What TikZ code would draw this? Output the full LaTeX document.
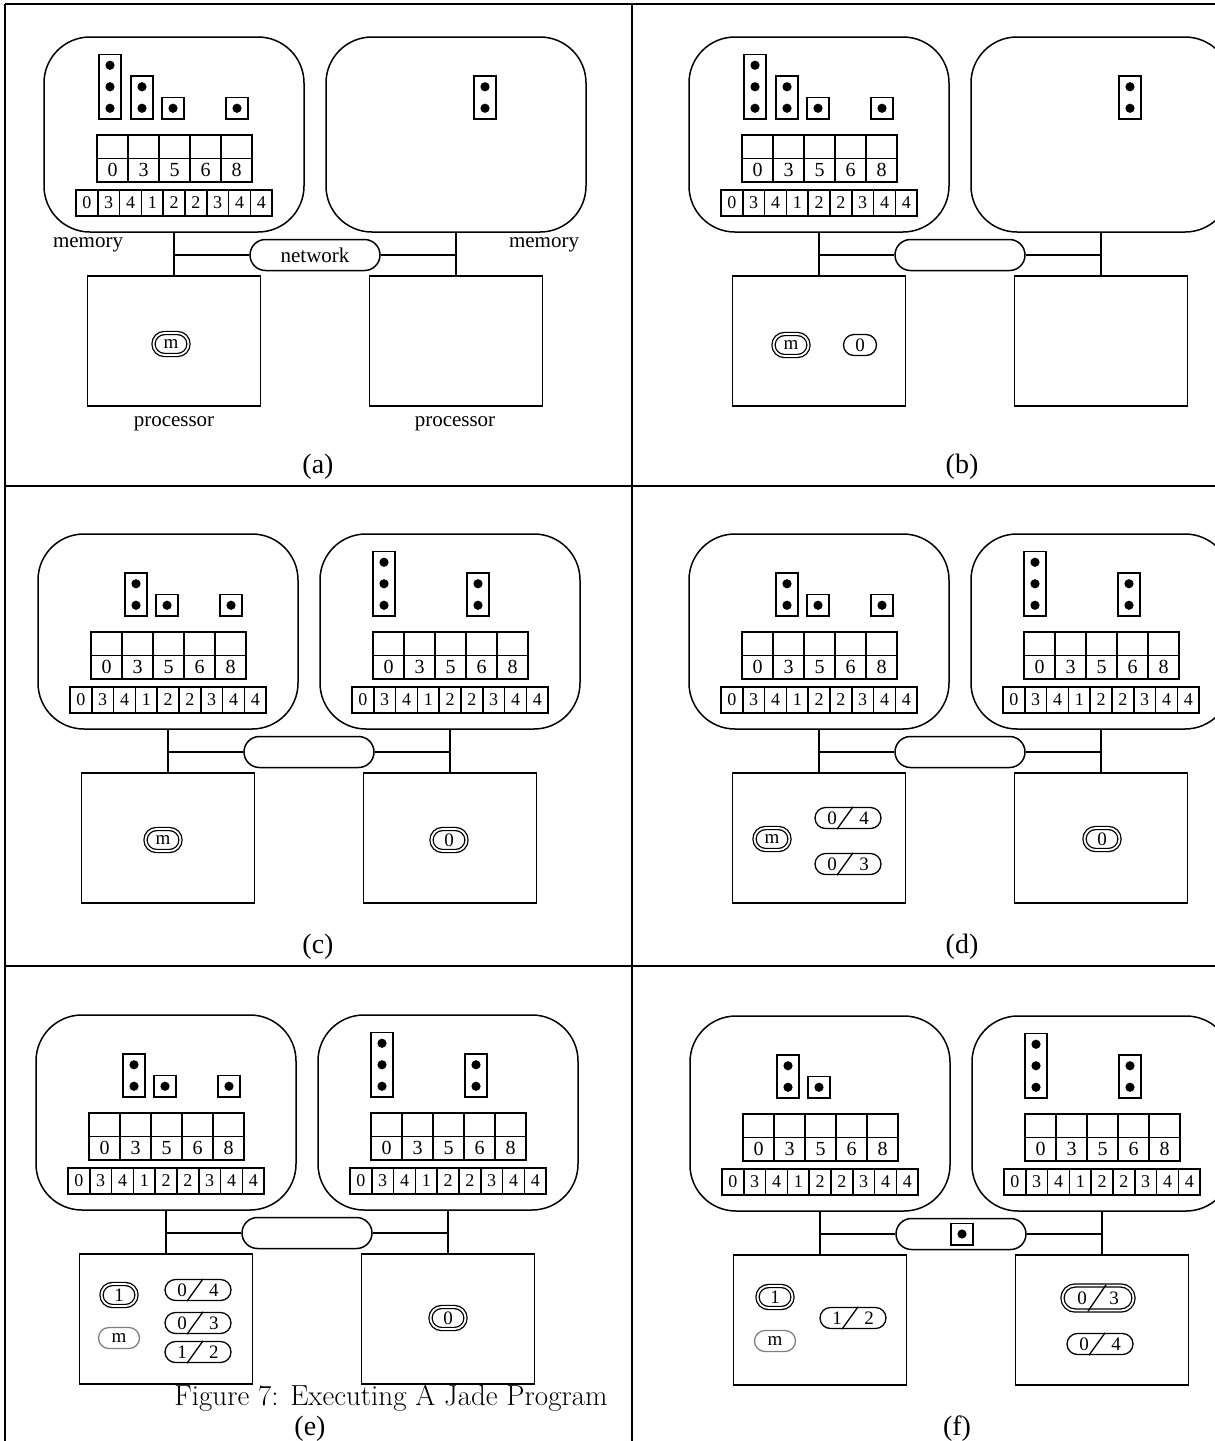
\documentclass[tikz,border=0pt]{standalone}
\usepackage{fontspec}
\newfontfamily\tm{Liberation Serif}
\usetikzlibrary{shapes.misc}
\newcommand{\dfont}{\tm\fontsize{20}{20}\selectfont}
\newcommand{\afont}{\tm\fontsize{18}{18}\selectfont}
\newcommand{\ofont}{\tm\fontsize{19}{19}\selectfont}
\newcommand{\lfont}{\tm\fontsize{21}{21}\selectfont}
\newcommand{\pfont}{\tm\fontsize{28}{28}\selectfont}
\newcommand{\frc}[2]{\makebox[10pt]{#1}\hspace{22pt}\makebox[10pt]{#2}}
\tikzset{
  mem/.style={draw, rectangle, rounded corners=46pt, minimum width=260pt, minimum height=195pt, inner sep=0pt},
  net/.style={draw, rounded rectangle, minimum width=130pt, minimum height=31pt, inner sep=0pt, font=\lfont},
  proc/.style={draw, rectangle, minimum width=173pt, minimum height=130pt, inner sep=0pt},
  tcell/.style={draw, rectangle, minimum width=31pt, minimum height=23.5pt, inner sep=0pt, font=\dfont},
  acell/.style={draw, rectangle, minimum width=21.8pt, minimum height=26pt, inner sep=0pt, font=\afont},
  dbox/.style={draw, rectangle, minimum width=22pt, inner sep=0pt},
  task/.style={draw, rounded rectangle, line width=1.3pt, minimum width=33pt, minimum height=21pt, inner sep=0pt, font=\ofont},
  running/.style={task, double, double distance=1.8pt, minimum width=35pt, minimum height=22pt},
  ghost/.style={task, draw=gray, minimum width=41pt},
  frac/.style={task, minimum width=66pt},
  fracrun/.style={frac, double, double distance=1.8pt, minimum width=71pt, minimum height=25pt},
  lbl/.style={font=\lfont, inner sep=0pt},
  plabel/.style={font=\pfont, inner sep=0pt},
}
\newcommand{\sysframe}[4]{%
  \begin{scope}[shift={(#2,#3)}]
    \node[mem] (#1mL) at (130,97.5) {};
    \node[mem] (#1mR) at (412,97.5) {};
    \node[net] (#1net) at (271,218) {#4};
    \node[proc] (#1pL) at (130,304) {};
    \node[proc] (#1pR) at (412,304) {};
    \draw (#1mL.south) -- (#1pL.north);
    \draw (#1mR.south) -- (#1pR.north);
    \draw (#1net.west) -- (#1net.west -| #1mL.south);
    \draw (#1net.east) -- (#1net.east -| #1mR.south);
  \end{scope}}
\newcommand{\memtab}[2]{%
  \foreach \i in {1,...,5} {\node[tcell] (#1u\i) at ({#2+53+31*(\i-0.5)},109.75) {};}
  \foreach \v [count=\i] in {0,3,5,6,8} {\node[tcell] (#1l\i) at ({#2+53+31*(\i-0.5)},133.25) {\v};}
  \foreach \v [count=\i] in {0,3,4,1,2,2,3,4,4} {\node[acell] (#1a\i) at ({#2+32+21.8*(\i-0.5)},166) {\v};}}
\newcommand{\dotcol}[3]{%
  \node[dbox, minimum height={#3*21.5}] (#1) at (#2,{82-#3*10.75}) {};
  \foreach \k in {1,...,#3} {\fill (#2,{82-21.5*(\k-0.5)}) circle (4.6);}}
\newcommand{\fracnode}[5]{% name, x, y, a, b
  \node[frac] (#1) at (#2,#3) {\frc{#4}{#5}};
  \draw[line width=1.3pt] ([xshift=-11pt]#1.south) -- ([xshift=5pt]#1.north);}
\begin{document}
\begin{tikzpicture}[x=1pt,y=-1pt,line width=1.5pt]
\useasboundingbox (0,0) rectangle (1215,1441);
\clip (0,0) rectangle (1215,1441);
% frame
\draw (5,4) -- (1215,4);
\draw (5,4) -- (5,1441);
\draw (632,4) -- (632,1441);
\draw (5,486) -- (1215,486);
\draw (5,966) -- (1215,966);

% ---------- (a)
\sysframe{a}{44}{37}{network}
\begin{scope}[shift={(44,37)}]
  \dotcol{aD1}{66}{3}\dotcol{aD2}{98}{2}\dotcol{aD3}{129}{1}\dotcol{aD4}{193}{1}
  \memtab{aL}{0}
  \dotcol{aD5}{441}{2}
  \node[running] (am) at (127,307) {m};
  \node[lbl] (amemL) at (44,208) {memory};
  \node[lbl] (amemR) at (500,208) {memory};
  \node[lbl] (aprL) at (130,387) {processor};
  \node[lbl] (aprR) at (411,387) {processor};
\end{scope}
\node[plabel] (la) at (318,467) {(a)};

% ---------- (b)
\sysframe{b}{689}{37}{}
\begin{scope}[shift={(689,37)}]
  \dotcol{bD1}{66}{3}\dotcol{bD2}{98}{2}\dotcol{bD3}{129}{1}\dotcol{bD4}{193}{1}
  \memtab{bL}{0}
  \dotcol{bD5}{441}{2}
  \node[running] (bm) at (102,308) {m};
  \node[task] (b0) at (171,308) {0};
\end{scope}
\node[plabel] (lb) at (962,467) {(b)};

% ---------- (c)
\sysframe{c}{38}{534}{}
\begin{scope}[shift={(38,534)}]
  \dotcol{cD2}{98}{2}\dotcol{cD3}{129}{1}\dotcol{cD4}{193}{1}
  \memtab{cL}{0}
  \dotcol{cD5}{346}{3}\dotcol{cD6}{440}{2}
  \memtab{cR}{282}
  \node[running] (cm) at (125,306) {m};
  \node[running] (c0) at (411,306) {0};
\end{scope}
\node[plabel] (lc) at (318,947) {(c)};

% ---------- (d)
\sysframe{d}{689}{534}{}
\begin{scope}[shift={(689,534)}]
  \dotcol{dD2}{98}{2}\dotcol{dD3}{129}{1}\dotcol{dD4}{193}{1}
  \memtab{dL}{0}
  \dotcol{dD5}{346}{3}\dotcol{dD6}{440}{2}
  \memtab{dR}{282}
  \node[running] (dm) at (83,305) {m};
  \fracnode{d04}{159}{284}{0}{4}
  \fracnode{d03}{159}{330}{0}{3}
  \node[running] (d0) at (413,305) {0};
\end{scope}
\node[plabel] (ld) at (962,947) {(d)};

% ---------- (e)
\sysframe{e}{36}{1015}{}
\begin{scope}[shift={(36,1015)}]
  \dotcol{eD2}{98}{2}\dotcol{eD3}{129}{1}\dotcol{eD4}{193}{1}
  \memtab{eL}{0}
  \dotcol{eD5}{346}{3}\dotcol{eD6}{440}{2}
  \memtab{eR}{282}
  \node[running] (e1) at (83,280) {1};
  \node[ghost] (em) at (83,323) {m};
  \fracnode{e04}{162}{275}{0}{4}
  \fracnode{e03}{162}{308}{0}{3}
  \fracnode{e12}{162}{337}{1}{2}
  \node[running] (e0) at (412,303) {0};
\end{scope}
\node[font=\fontsize{29}{30}\selectfont, anchor=base, inner sep=0pt] (cap) at (391,1405) {Figure 7: Executing A Jade Program};
\node[plabel] (le) at (310,1429) {(e)};

% ---------- (f)
\sysframe{f}{690}{1016}{}
\begin{scope}[shift={(690,1016)}]
  \dotcol{fD2}{98}{2}\dotcol{fD3}{129}{1}
  \memtab{fL}{0}
  \dotcol{fD5}{346}{3}\dotcol{fD6}{440}{2}
  \memtab{fR}{282}
  \node[dbox, minimum height=21.5pt] (fnb) at (272,218) {};
  \fill (fnb.center) circle (4.6);
  \node[running] (f1) at (85,281) {1};
  \node[ghost] (fm) at (85,325) {m};
  \fracnode{f12}{163}{302}{1}{2}
  \node[fracrun] (f03) at (408,282) {\frc{0}{3}};
  \draw[line width=1.3pt] ([xshift=-10pt]f03.south) -- ([xshift=8pt]f03.north);
  \fracnode{f04}{410}{328}{0}{4}
\end{scope}
\node[plabel] (lf) at (957,1429) {(f)};
\end{tikzpicture}
\end{document}
